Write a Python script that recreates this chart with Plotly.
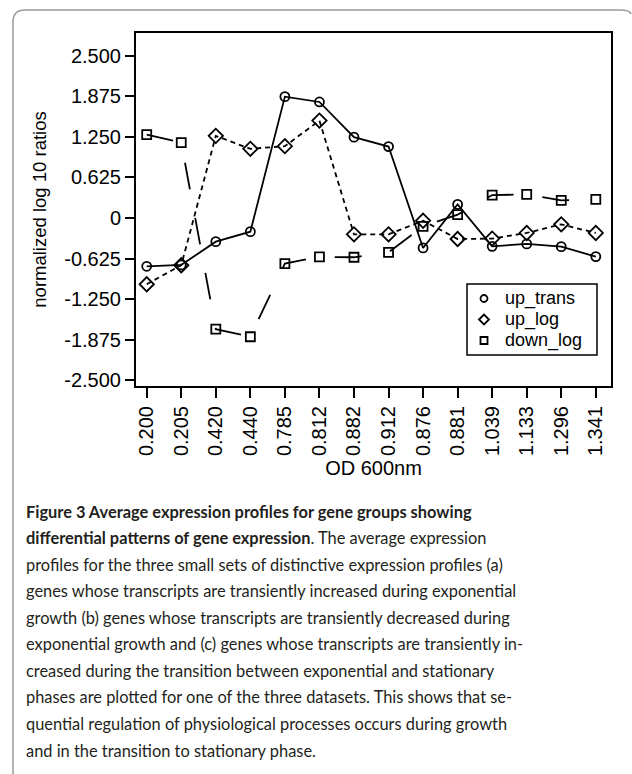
import plotly.graph_objects as go

od_labels = ["0.200", "0.205", "0.420", "0.440", "0.785", "0.812", "0.882",
             "0.912", "0.876", "0.881", "1.039", "1.133", "1.296", "1.341"]
up_trans = [-0.745, -0.724, -0.365, -0.211, 1.872, 1.790, 1.247,
            1.102, -0.462, 0.209, -0.437, -0.400, -0.442, -0.596]
up_log = [-1.022, -0.729, 1.267, 1.067, 1.108, 1.503, -0.252,
          -0.252, -0.042, -0.324, -0.318, -0.231, -0.098, -0.231]
down_log = [1.287, 1.164, -1.715, -1.832, -0.703, -0.600, -0.606,
            -0.529, -0.129, 0.051, 0.354, 0.363, 0.271, 0.286]
y_ticks = [-2.5, -1.875, -1.25, -0.625, 0, 0.625, 1.25, 1.875, 2.5]
y_ticktext = ["-2.500", "-1.875", "-1.250", "-0.625", "0", "0.625", "1.250", "1.875", "2.500"]
series_names = ["up_trans", "up_log", "down_log"]

caption_lines = [
    "<b>Figure 3 Average expression profiles for gene groups showing</b>",
    "<b>differential patterns of gene expression</b>. The average expression",
    "profiles for the three small sets of distinctive expression profiles (a)",
    "genes whose transcripts are transiently increased during exponential",
    "growth (b) genes whose transcripts are transiently decreased during",
    "exponential growth and (c) genes whose transcripts are transiently in-",
    "creased during the transition between exponential and stationary",
    "phases are plotted for one of the three datasets. This shows that se-",
    "quential regulation of physiological processes occurs during growth",
    "and in the transition to stationary phase.",
]

W, H = 632, 774
L, R, T, B = 136, 611, 33, 386


def px_x(p):
    return (p - L) / (R - L)


def px_y(p):
    return (B - p) / (B - T)


AX_FONT = "Liberation Sans, Arial, sans-serif"
fig = go.Figure()

styles = [
    ("circle-open", "solid", 9),
    ("diamond-open", "5px,4px", 11),
    ("square-open", "27px,29px", 9),
]
for name, vals, (sym, dash, size) in zip(series_names, [up_trans, up_log, down_log], styles):
    fig.add_trace(go.Scatter(
        x=od_labels, y=vals, mode="lines+markers", name=name, showlegend=False,
        line=dict(color="black", width=1.8, dash=dash),
        marker=dict(symbol=sym, size=size, color="black", line=dict(width=1.8, color="black")),
    ))

fig.update_xaxes(
    type="category", categoryorder="array", categoryarray=od_labels,
    range=[-0.31, 13.44], showline=True, mirror=True, linecolor="black", linewidth=2,
    ticks="outside", ticklen=10, tickwidth=1.8, tickcolor="black",
    tickangle=-90, tickfont=dict(family=AX_FONT, size=20, color="black"),
    title=dict(text="OD 600nm", font=dict(family=AX_FONT, size=20, color="black"), standoff=6),
    showgrid=False, zeroline=False, automargin=False,
)
fig.update_yaxes(
    range=[-2.592, 2.854], tickvals=y_ticks, ticktext=y_ticktext,
    showline=True, mirror=True, linecolor="black", linewidth=2,
    ticks="outside", ticklen=9, tickwidth=1.8, tickcolor="black",
    tickfont=dict(family=AX_FONT, size=20, color="black"),
    title=dict(text="normalized log 10 ratios", font=dict(family=AX_FONT, size=18.5, color="black"), standoff=13),
    showgrid=False, zeroline=False, automargin=False,
)

fig.update_layout(
    width=W, height=H, autosize=False,
    margin=dict(l=L, r=W - R, t=T, b=H - B, pad=0),
    paper_bgcolor="white", plot_bgcolor="white",
    showlegend=False,
)

# legend box drawn as layout decoration
fig.add_shape(type="rect", xref="paper", yref="paper",
              x0=px_x(467), x1=px_x(597), y0=px_y(284), y1=px_y(355),
              line=dict(color="black", width=1.5), fillcolor="white", layer="above")
leg_y = [298.5, 319.5, 340.5]
mx = px_x(484)
fig.add_shape(type="circle", xref="paper", yref="paper", xsizemode="pixel", ysizemode="pixel",
              xanchor=mx, yanchor=px_y(leg_y[0]), x0=-3.5, x1=3.5, y0=-3.5, y1=3.5,
              line=dict(color="black", width=1.8), layer="above")
fig.add_shape(type="path", xref="paper", yref="paper", xsizemode="pixel", ysizemode="pixel",
              xanchor=mx, yanchor=px_y(leg_y[1]),
              path="M -5,0 L 0,5 L 5,0 L 0,-5 Z",
              line=dict(color="black", width=1.8), layer="above")
fig.add_shape(type="rect", xref="paper", yref="paper", xsizemode="pixel", ysizemode="pixel",
              xanchor=mx, yanchor=px_y(leg_y[2]), x0=-3.5, x1=3.5, y0=-3.5, y1=3.5,
              line=dict(color="black", width=1.8), layer="above")
for name, yy in zip(series_names, leg_y):
    fig.add_annotation(text=name, xref="paper", yref="paper", x=px_x(503), y=px_y(yy),
                       xanchor="left", yanchor="middle", showarrow=False,
                       font=dict(family=AX_FONT, size=18, color="black"))

# frame around the figure
fig.add_shape(
    type="path", xref="paper", yref="paper",
    path=(f"M {px_x(13)},{px_y(774)} L {px_x(13)},{px_y(22)} "
          f"Q {px_x(13)},{px_y(10)} {px_x(25)},{px_y(10)} "
          f"L {px_x(620)},{px_y(10)} Q {px_x(630)},{px_y(10)} {px_x(631)},{px_y(14)}"),
    line=dict(color="#9a9a9a", width=1.5),
)

CAP_FONT = "Lato, sans-serif"
for i, txt in enumerate(caption_lines):
    fig.add_annotation(
        text=txt, xref="paper", yref="paper", x=px_x(24), y=px_y(511 + i * 26.56),
        xanchor="left", yanchor="middle", showarrow=False, align="left",
        font=dict(family=CAP_FONT, size=16.4, color="#231f20"),
    )

fig.write_html("out.html", config={"displayModeBar": False},
               post_script="document.body.style.margin='0';document.body.style.overflow='hidden';")
